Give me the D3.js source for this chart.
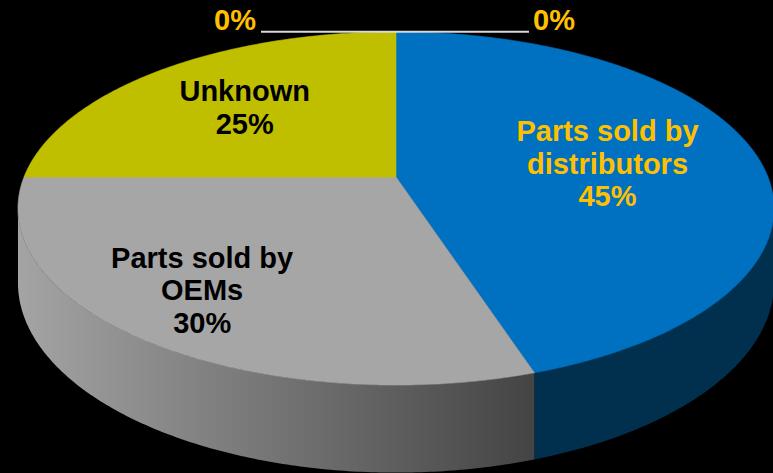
<!DOCTYPE html>
<html>
<head>
<meta charset="utf-8">
<script src="https://cdn.jsdelivr.net/npm/d3@7/dist/d3.min.js"></script>
<style>
    html, body { margin: 0; padding: 0; background: #000; }
    svg { display: block; }
</style>
</head>
<body>
<div id="grafico"></div>
<script>
// datos del grafico (en orden de las agujas del reloj, desde arriba)
const categories = ["", "Parts sold by distributors", "Parts sold by OEMs", "Unknown", ""];
const labelLines = [[], ["Parts sold by", "distributors"], ["Parts sold by", "OEMs"], ["Unknown"], []];
const values = [0, 45, 30, 25, 0];

// estilos
const topColors = ["#0070c0", "#0070c0", "#a6a6a6", "#bfbf00", "#bfbf00"];
const sideColors = ["#00304e", "#00304e", "url(#sideGray)", "#6b6b00", "#6b6b00"];
const textColors = ["#ffc000", "#ffc000", "#000000", "#000000", "#ffc000"];
const labelRadius = [0.6, 0.585, 0.75, 0.62, 0.6];
const labelShift = [[0, 0], [0, 1], [-10, -4], [0, -1], [0, 0]];

const width = 773;
const height = 473;

// proyeccion en perspectiva del disco
const cx = 396, cy = 177;   // centro del pastel
const ax = 372, by = 171;   // radios
const p = 0.178;            // perspectiva
const depth = 72;           // grosor

function proj(theta, r, z) {
    const u = r * Math.sin(theta);
    const v = -r * Math.cos(theta);
    const k = 1 / (1 - p * v);
    return [cx + ax * u * k, cy + (by * v + z * depth) * k];
}

function arcPoints(a0, a1, z) {
    const n = Math.max(2, Math.ceil(Math.abs(a1 - a0) / 0.01));
    return d3.range(n + 1).map(i => proj(a0 + (a1 - a0) * i / n, 1, z));
}

const pie = d3.pie().sort(null).value(d => d);
const arcs = pie(values);
const line = d3.line();

const svg = d3.select("#grafico")
    .append("svg")
    .attr("width", width)
    .attr("height", height)
    .style("font-family", "'Liberation Sans', Arial, sans-serif");

svg.append("rect").attr("width", width).attr("height", height).attr("fill", "#000");

// degradado del lado gris
const grad = svg.append("defs").append("linearGradient")
    .attr("id", "sideGray")
    .attr("gradientUnits", "userSpaceOnUse")
    .attr("x1", 18).attr("x2", 545).attr("y1", 0).attr("y2", 0);
grad.append("stop").attr("offset", 0).attr("stop-color", "#a4a4a4");
grad.append("stop").attr("offset", 1).attr("stop-color", "#424242");

// lados visibles (frente del disco)
const lo = Math.acos(-p);
const hi = 2 * Math.PI - lo;
svg.append("g").selectAll("path")
    .data(arcs.filter(d => d.value > 0 && Math.min(d.endAngle, hi) > Math.max(d.startAngle, lo)))
    .enter()
    .append("path")
    .attr("d", d => {
        const s = Math.max(d.startAngle, lo), e = Math.min(d.endAngle, hi);
        return line(arcPoints(s, e, 0).concat(arcPoints(e, s, 1))) + "Z";
    })
    .attr("fill", d => sideColors[d.index]);

// cara superior
svg.append("g").selectAll("path")
    .data(arcs.filter(d => d.value > 0))
    .enter()
    .append("path")
    .attr("d", d => line([proj(0, 0, 0)].concat(arcPoints(d.startAngle, d.endAngle, 0))) + "Z")
    .attr("fill", d => topColors[d.index])
    .attr("stroke", d => topColors[d.index])
    .attr("stroke-width", 0.6);

// etiquetas de las porciones
const lineH = 32.5;
arcs.filter(d => d.value > 0).forEach(d => {
    const mid = (d.startAngle + d.endAngle) / 2;
    const [px, py] = proj(mid, labelRadius[d.index], 0);
    const x = px + labelShift[d.index][0], y = py + labelShift[d.index][1];
    const lines = labelLines[d.index].concat([d.value + "%"]);
    const t = svg.append("text")
        .attr("text-anchor", "middle")
        .attr("fill", textColors[d.index])
        .attr("font-size", 29)
        .attr("font-weight", "bold");
    lines.forEach((s, j) => {
        t.append("tspan")
            .attr("x", x)
            .attr("y", y + (j - (lines.length - 1) / 2) * lineH + 11)
            .text(s);
    });
});

// etiquetas 0% con lineas guia
arcs.filter(d => d.value === 0).forEach(d => {
    const [x, y] = proj(d.startAngle, 1, 0);
    const right = d.startAngle < Math.PI;
    const x2 = right ? x + 133 : x - 135;
    svg.append("line")
        .attr("x1", x).attr("y1", y)
        .attr("x2", x2).attr("y2", y)
        .attr("stroke", "#d9d9d9")
        .attr("stroke-width", 2);
    svg.append("text")
        .attr("x", right ? x2 + 4 : x2 - 5)
        .attr("y", y - 2)
        .attr("text-anchor", right ? "start" : "end")
        .attr("fill", textColors[d.index])
        .attr("font-size", 29)
        .attr("font-weight", "bold")
        .text(d.value + "%");
});
</script>
</body>
</html>
